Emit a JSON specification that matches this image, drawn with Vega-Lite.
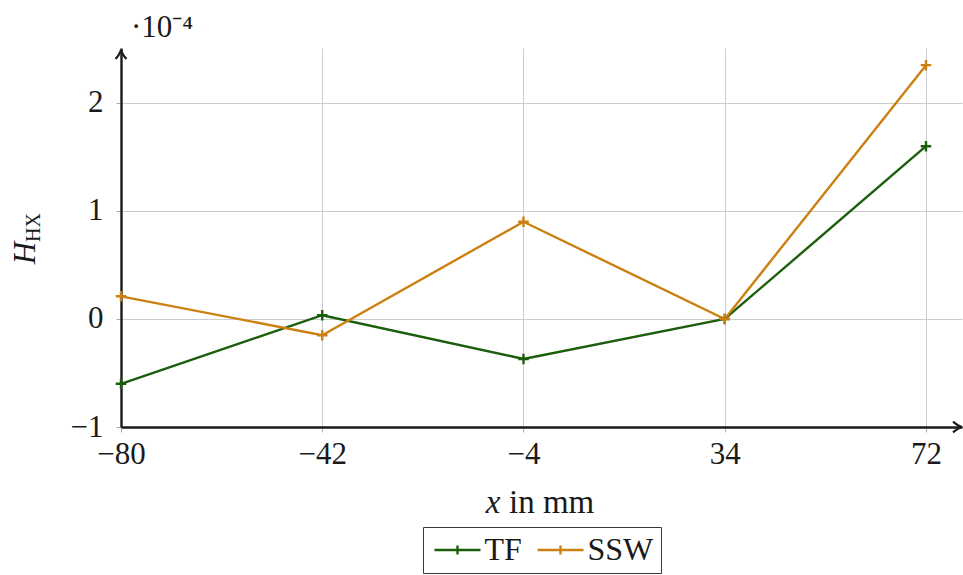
{
  "$schema": "https://vega.github.io/schema/vega-lite/v6.json",
  "width": 841,
  "height": 379,
  "autosize": {"type": "none"},
  "padding": {"left": 121, "top": 48, "right": 1, "bottom": 148},
  "background": "white",
  "config": {"view": {"stroke": null}, "font": "Liberation Serif"},
  "datasets": {
    "lines": [
      {"x": -80, "y": -0.60, "series": "TF"},
      {"x": -42, "y": 0.035, "series": "TF"},
      {"x": -4, "y": -0.37, "series": "TF"},
      {"x": 34, "y": 0.0, "series": "TF"},
      {"x": 72, "y": 1.60, "series": "TF"},
      {"x": -80, "y": 0.21, "series": "SSW"},
      {"x": -42, "y": -0.15, "series": "SSW"},
      {"x": -4, "y": 0.90, "series": "SSW"},
      {"x": 34, "y": 0.0, "series": "SSW"},
      {"x": 72, "y": 2.35, "series": "SSW"}
    ]
  },
  "layer": [
    {
      "data": {"name": "lines"},
      "mark": {"type": "line", "strokeWidth": 2.4, "point": {"shape": "M-1,0L1,0M0,-1L0,1", "filled": false, "size": 110, "strokeWidth": 2.4}},
      "encoding": {
        "x": {"field": "x", "type": "quantitative", "scale": {"domain": [-80, 78.8], "nice": false, "zero": false},
          "axis": {"values": [-80, -42, -4, 34, 72], "format": "d", "title": null, "domainColor": "#1a1a1a", "domainWidth": 2.4, "gridColor": "#cccccc", "gridWidth": 1, "tickColor": "#aaaaaa", "tickSize": 5, "labelFont": "Liberation Serif", "labelFontSize": 31, "labelColor": "#1a1a1a", "labelPadding": 7, "labelFlush": false, "labelOverlap": false, "labelBound": false}},
        "y": {"field": "y", "type": "quantitative", "scale": {"domain": [-1, 2.509], "nice": false, "zero": false},
          "axis": {"values": [-1, 0, 1, 2], "format": "d", "title": null, "domainColor": "#1a1a1a", "domainWidth": 2.4, "gridColor": "#cccccc", "gridWidth": 1, "tickColor": "#aaaaaa", "tickSize": 5, "labelFont": "Liberation Serif", "labelFontSize": 31, "labelColor": "#1a1a1a", "labelPadding": 13, "labelFlush": false, "labelOverlap": false, "labelBound": false}},
        "color": {"field": "series", "type": "nominal", "sort": ["TF", "SSW"],
          "scale": {"domain": ["TF", "SSW"], "range": ["#1a5e0b", "#cc8010"]},
          "legend": {"title": null, "orient": "none", "legendX": 302, "legendY": 479, "direction": "horizontal", "symbolType": "M-2,0L2,0M0,-0.4L0,0.4", "symbolSize": 529, "symbolOffset": 11.5, "symbolStrokeWidth": 2.4, "symbolFillColor": "transparent", "labelFont": "Liberation Serif", "labelFontSize": 32, "labelColor": "#1a1a1a", "labelOffset": 11, "columnPadding": 10, "padding": 7, "strokeColor": "#3a3a3a"}}
      }
    },
    {
      "data": {"values": [{}]},
      "mark": {"type": "point", "shape": "M-1,-0.6Q-0.4,-0.1 0,0Q-0.4,0.1 -1,0.6", "filled": false, "size": 324, "strokeWidth": 2.2, "color": "#1a1a1a", "opacity": 1},
      "encoding": {"x": {"datum": 78.8, "type": "quantitative"}, "y": {"datum": -1, "type": "quantitative"}}
    },
    {
      "data": {"values": [{}]},
      "mark": {"type": "point", "shape": "M-1,-0.6Q-0.4,-0.1 0,0Q-0.4,0.1 -1,0.6", "filled": false, "size": 324, "strokeWidth": 2.2, "color": "#1a1a1a", "opacity": 1, "angle": 270},
      "encoding": {"x": {"datum": -80, "type": "quantitative"}, "y": {"datum": 2.49, "type": "quantitative"}}
    },
    {
      "data": {"values": [{}]},
      "mark": {"type": "text", "text": "·10⁻⁴", "font": "Liberation Serif", "fontSize": 31, "align": "left", "baseline": "alphabetic", "dx": 10, "dy": -11, "color": "#1a1a1a"},
      "encoding": {"x": {"datum": -80, "type": "quantitative"}, "y": {"datum": 2.509, "type": "quantitative"}}
    },
    {
      "data": {"values": [{}]},
      "mark": {"type": "text", "text": "H", "font": "Liberation Serif", "fontStyle": "italic", "fontSize": 31, "angle": 270, "align": "right", "baseline": "alphabetic", "dy": -86, "color": "#1a1a1a"},
      "encoding": {"x": {"datum": -80, "type": "quantitative"}, "y": {"datum": 0.713, "type": "quantitative"}}
    },
    {
      "data": {"values": [{}]},
      "mark": {"type": "text", "text": "HX", "font": "Liberation Serif", "fontSize": 20, "angle": 270, "align": "left", "baseline": "alphabetic", "dy": -81, "color": "#1a1a1a"},
      "encoding": {"x": {"datum": -80, "type": "quantitative"}, "y": {"datum": 0.713, "type": "quantitative"}}
    },
    {
      "data": {"values": [{}]},
      "mark": {"type": "text", "text": "x", "font": "Liberation Serif", "fontStyle": "italic", "fontSize": 33, "align": "center", "baseline": "alphabetic", "dy": 86, "color": "#1a1a1a"},
      "encoding": {"x": {"datum": -9.76, "type": "quantitative"}, "y": {"datum": -1, "type": "quantitative"}}
    },
    {
      "data": {"values": [{}]},
      "mark": {"type": "text", "text": "in mm", "font": "Liberation Serif", "fontSize": 33, "align": "left", "baseline": "alphabetic", "dy": 86, "color": "#1a1a1a"},
      "encoding": {"x": {"datum": -6.74, "type": "quantitative"}, "y": {"datum": -1, "type": "quantitative"}}
    }
  ]
}
